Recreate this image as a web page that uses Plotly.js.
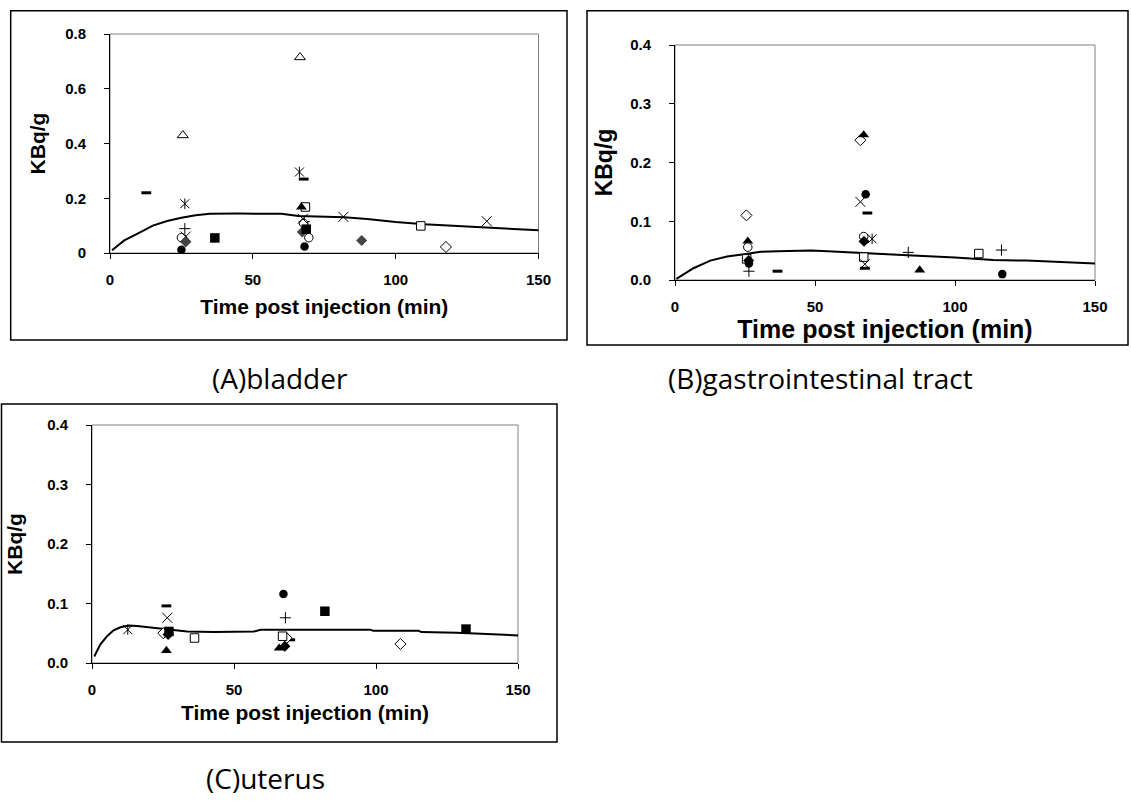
<!DOCTYPE html>
<html>
<head>
<meta charset="utf-8">
<script src="https://cdn.plot.ly/plotly-3.0.1.min.js"></script>
<style>
html,body{margin:0;padding:0;background:#fff;}
#chart{width:1131px;height:801px;}
</style>
</head>
<body>
<div id="chart"></div>
<script>
// ---------------- DATA ----------------
const xTickVals = [0, 50, 100, 150];
const xTitle = 'Time post injection (min)';
const yTitle = 'KBq/g';
const captionA = '(A)bladder';
const captionB = '(B)gastrointestinal tract';
const captionC = '(C)uterus';

// Panel A (bladder) fitted curve
const aCurveT = [0.7, 5, 10, 15, 20, 25, 30, 35, 45, 55, 60, 66, 75, 82, 90, 100, 110, 120, 132, 140, 150, 152];
const aCurveV = [0.010, 0.046, 0.073, 0.100, 0.117, 0.129, 0.138, 0.143, 0.144, 0.144, 0.143, 0.135, 0.133, 0.131, 0.124, 0.113, 0.105, 0.099, 0.094, 0.088, 0.083, 0.082];
// Panel A points by marker
const aTriOpenT = [25.5, 66.5];        const aTriOpenV = [0.430, 0.715];
const aDashT = [12.7, 67.8];           const aDashV = [0.220, 0.270];
const aAsterT = [26.2, 66.3];          const aAsterV = [0.180, 0.296];
const aTriT = [67.0, 26.3];            const aTriV = [0.168, 0.050];
const aSqOpenT = [68.4, 108.8];        const aSqOpenV = [0.168, 0.099];
const aPlusT = [26.2, 68.0];           const aPlusV = [0.089, 0.115];
const aCircOpenT = [25.0, 67.8, 69.6]; const aCircOpenV = [0.056, 0.108, 0.056];
const aXT = [26.5, 67.5, 81.7, 131.9]; const aXV = [0.060, 0.125, 0.132, 0.116];
const aDiaT = [26.5, 67.3, 88.1];      const aDiaV = [0.040, 0.077, 0.046];
const aSqT = [36.7, 68.7];             const aSqV = [0.055, 0.087];
const aCircT = [25.0, 68.1];           const aCircV = [0.012, 0.024];
const aDiaOpenT = [117.6];             const aDiaOpenV = [0.022];

// Panel B (gastrointestinal tract) fitted curve
const bCurveT = [0.5, 6.6, 12.6, 18.6, 24.6, 30.6, 36.6, 42.6, 48.6, 54.6, 61.8, 72.5, 83, 100, 113.6, 125.6, 137.6, 150, 152];
const bCurveV = [0.002, 0.020, 0.033, 0.040, 0.044, 0.048, 0.049, 0.050, 0.050, 0.049, 0.047, 0.045, 0.042, 0.0385, 0.034, 0.033, 0.030, 0.028, 0.028];
const bDiaOpenT = [25.5, 66.2];        const bDiaOpenV = [0.110, 0.238];
const bTriT = [26.0, 67.4, 87.4];      const bTriV = [0.066, 0.247, 0.017];
const bCircOpenT = [26.0, 67.4];       const bCircOpenV = [0.056, 0.074];
const bSqOpenT = [25.6, 67.4, 108.5];  const bSqOpenV = [0.036, 0.039, 0.045];
const bDiaT = [26.3, 67.5];            const bDiaV = [0.033, 0.066];
const bCircT = [26.4, 68.1, 116.9];    const bCircV = [0.028, 0.146, 0.010];
const bPlusT = [26.4, 83.3, 116.6];    const bPlusV = [0.015, 0.047, 0.051];
const bDashT = [36.6, 68.7, 67.8];     const bDashV = [0.015, 0.114, 0.020];
const bXT = [66.2, 67.8];              const bXV = [0.133, 0.027];
const bAsterT = [70.4];                const bAsterV = [0.070];

// Panel C (uterus) fitted curve
const cCurveT = [0.8, 2.9, 5.3, 7.6, 10, 12.9, 15.9, 21.8, 27.6, 33.5, 43, 57, 59.4, 72.4, 98, 99, 115, 116, 128.4, 137, 150, 152];
const cCurveV = [0.011, 0.031, 0.045, 0.055, 0.060, 0.063, 0.062, 0.059, 0.055, 0.053, 0.052, 0.053, 0.056, 0.056, 0.056, 0.054, 0.054, 0.052, 0.051, 0.049, 0.046, 0.046];
const cAsterT = [12.6];                const cAsterV = [0.056];
const cDashT = [26.2, 69.8];           const cDashV = [0.096, 0.039];
const cXT = [26.5];                    const cXV = [0.076];
const cDiaOpenT = [25.1, 68.5, 108.6]; const cDiaOpenV = [0.050, 0.042, 0.032];
const cSqT = [27.1, 82.0, 131.7];      const cSqV = [0.053, 0.087, 0.057];
const cDiaT = [26.8, 67.9];            const cDiaV = [0.048, 0.028];
const cTriT = [26.2, 65.9];            const cTriV = [0.021, 0.025];
const cSqOpenT = [36.1, 67.1];         const cSqOpenV = [0.042, 0.045];
const cCircT = [67.4];                 const cCircV = [0.116];
const cPlusT = [68.1];                 const cPlusV = [0.076];

// ---------------- STYLES ----------------
const M = {
  circ:     {symbol:'circle', size:8.5, color:'#000', line:{color:'#000', width:0}},
  circOpen: {symbol:'circle', size:8.5, color:'#fff', line:{color:'#000', width:1}},
  sq:       {symbol:'square', size:9.5, color:'#000', line:{color:'#000', width:0}},
  sqOpen:   {symbol:'square', size:8.5, color:'#fff', line:{color:'#000', width:1}},
  tri:      {symbol:'triangle-up', size:9.5, color:'#000', line:{color:'#000', width:0}},
  triOpen:  {symbol:'triangle-up', size:9.5, color:'#fff', line:{color:'#000', width:1}},
  dia:      {symbol:'diamond', size:8.5, color:'#000', line:{color:'#000', width:0}},
  diaGray:  {symbol:'diamond', size:8.5, color:'#444', line:{color:'#444', width:0}},
  diaOpen:  {symbol:'diamond', size:8.5, color:'#fff', line:{color:'#000', width:1}},
  x:        {symbol:'x-thin-open', size:10, color:'#000', line:{color:'#000', width:1}},
  asterX:   {symbol:'x-thin-open', size:9, color:'#000', line:{color:'#000', width:1}},
  asterV:   {symbol:'line-ns-open', size:7.5, color:'#000', line:{color:'#000', width:1}},
  plus:     {symbol:'cross-thin-open', size:8, color:'#000', line:{color:'#000', width:1}},
  dash:     {symbol:'line-ew-open', size:7, color:'#000', line:{color:'#000', width:3}}
};

const W = 1131, H = 801;
const fx = p => p / W;
const fy = p => 1 - p / H;

function pts(ax, t, v, m) {
  return {type:'scatter', mode:'markers', x:t, y:v, xaxis:'x'+ax, yaxis:'y'+ax,
          marker:M[m], cliponaxis:false, showlegend:false, hoverinfo:'x+y'};
}
function aster(ax, t, v) {
  return [pts(ax, t, v, 'asterX'), pts(ax, t, v, 'asterV')];
}
function curve(ax, t, v) {
  return {type:'scatter', mode:'lines', x:t, y:v, xaxis:'x'+ax, yaxis:'y'+ax,
          line:{color:'#000', width:2}, showlegend:false, hoverinfo:'x+y'};
}

const data = [
  curve('', aCurveT, aCurveV),
  pts('', aTriOpenT, aTriOpenV, 'triOpen'),
  pts('', aDashT, aDashV, 'dash'),
  ...aster('', aAsterT, aAsterV),
  pts('', aSqOpenT, aSqOpenV, 'sqOpen'),
  pts('', aTriT, aTriV, 'tri'),
  pts('', aPlusT, aPlusV, 'plus'),
  pts('', aCircOpenT, aCircOpenV, 'circOpen'),
  pts('', aXT, aXV, 'x'),
  pts('', aDiaT, aDiaV, 'diaGray'),
  pts('', aSqT, aSqV, 'sq'),
  pts('', aCircT, aCircV, 'circ'),
  pts('', aDiaOpenT, aDiaOpenV, 'diaOpen'),

  curve('2', bCurveT, bCurveV),
  pts('2', bDiaOpenT, bDiaOpenV, 'diaOpen'),
  pts('2', bTriT, bTriV, 'tri'),
  pts('2', bCircOpenT, bCircOpenV, 'circOpen'),
  pts('2', bSqOpenT, bSqOpenV, 'sqOpen'),
  pts('2', bDiaT, bDiaV, 'dia'),
  pts('2', bCircT, bCircV, 'circ'),
  pts('2', bPlusT, bPlusV, 'plus'),
  pts('2', bDashT, bDashV, 'dash'),
  pts('2', bXT, bXV, 'x'),
  ...aster('2', bAsterT, bAsterV),

  curve('3', cCurveT, cCurveV),
  ...aster('3', cAsterT, cAsterV),
  pts('3', cDashT, cDashV, 'dash'),
  pts('3', cXT, cXV, 'x'),
  pts('3', cDiaOpenT, cDiaOpenV, 'diaOpen'),
  pts('3', cSqOpenT, cSqOpenV, 'sqOpen'),
  pts('3', cSqT, cSqV, 'sq'),
  pts('3', cDiaT, cDiaV, 'dia'),
  pts('3', cTriT, cTriV, 'tri'),
  pts('3', cCircT, cCircV, 'circ'),
  pts('3', cPlusT, cPlusV, 'plus')
];

const FONT = 'Liberation Sans, Arial, sans-serif';
const tickFont = {family:FONT, size:15, color:'#000', weight:'bold'};
const titleFont = {family:FONT, size:21, color:'#000', weight:'bold'};
const titleFontB = {family:FONT, size:25, color:'#000', weight:'bold'};
const yTitleFontB = {family:FONT, size:23, color:'#000', weight:'bold'};

function xAx(domain, anchor, standoff, tf) {
  return {domain:domain, anchor:anchor, range:[0,150], tickvals:xTickVals,
    showgrid:false, zeroline:false, showline:true, linecolor:'#000', linewidth:1,
    ticks:'outside', ticklen:5, tickcolor:'#000', tickfont:tickFont, ticklabelstandoff:8,
    title:{text:xTitle, font:tf, standoff:standoff}, automargin:false, fixedrange:true};
}
function yAx(domain, anchor, range, dtick, fmt, standoff, tf) {
  return {domain:domain, anchor:anchor, range:range, dtick:dtick, tick0:0, tickformat:fmt,
    showgrid:false, zeroline:false, showline:true, linecolor:'#000', linewidth:1,
    ticks:'outside', ticklen:5, tickcolor:'#000', tickfont:tickFont, ticklabelstandoff:15,
    title:{text:yTitle, font:tf, standoff:standoff}, automargin:false, fixedrange:true};
}

const A = {x0:110, x1:538.5, y0:34, y1:253};
const B = {x0:675, x1:1095, y0:45, y1:280};
const C = {x0:92, x1:518, y0:425, y1:663};

function rect(x0, y0, x1, y1, color, width, layer) {
  return {type:'rect', xref:'paper', yref:'paper', x0:fx(x0), x1:fx(x1), y0:fy(y1), y1:fy(y0),
          line:{color:color, width:width}, fillcolor:'rgba(0,0,0,0)', layer:layer||'above'};
}
const capFont = {family:'Open Sans, sans-serif', size:28, color:'#000'};
function caption(text, x, y) {
  return {text:text, xref:'paper', yref:'paper', x:fx(x), y:fy(y), xanchor:'center', yanchor:'middle',
          showarrow:false, font:capFont};
}

const layout = {
  width:W, height:H, margin:{l:0, r:0, t:0, b:0},
  paper_bgcolor:'#fff', plot_bgcolor:'#fff', showlegend:false,
  xaxis:  xAx([fx(A.x0), fx(A.x1)], 'y', 12, titleFont),
  yaxis:  yAx([fy(A.y1), fy(A.y0)], 'x', [0,0.8], 0.2, '', 13, titleFont),
  xaxis2: xAx([fx(B.x0), fx(B.x1)], 'y2', 2, titleFontB),
  yaxis2: yAx([fy(B.y1), fy(B.y0)], 'x2', [0,0.4], 0.1, '.1f', 11, yTitleFontB),
  xaxis3: xAx([fx(C.x0), fx(C.x1)], 'y3', 8, titleFont),
  yaxis3: yAx([fy(C.y1), fy(C.y0)], 'x3', [0,0.4], 0.1, '.1f', 18, titleFont),
  shapes: [
    rect(A.x0, A.y0, A.x1, A.y1, '#808080', 1, 'below'),
    rect(B.x0, B.y0, B.x1, B.y1, '#808080', 1, 'below'),
    rect(C.x0, C.y0, C.x1, C.y1, '#808080', 1, 'below'),
    rect(10.7, 10.7, 567, 340, '#000', 1.5),
    rect(587, 10.7, 1128, 345, '#000', 1.5),
    rect(1.5, 404, 557, 742, '#000', 1.5)
  ],
  annotations: [
    caption(captionA, 280, 378),
    caption(captionB, 820, 378),
    caption(captionC, 265, 778)
  ]
};

Plotly.newPlot('chart', data, layout, {staticPlot:true, displayModeBar:false});
</script>
</body>
</html>
